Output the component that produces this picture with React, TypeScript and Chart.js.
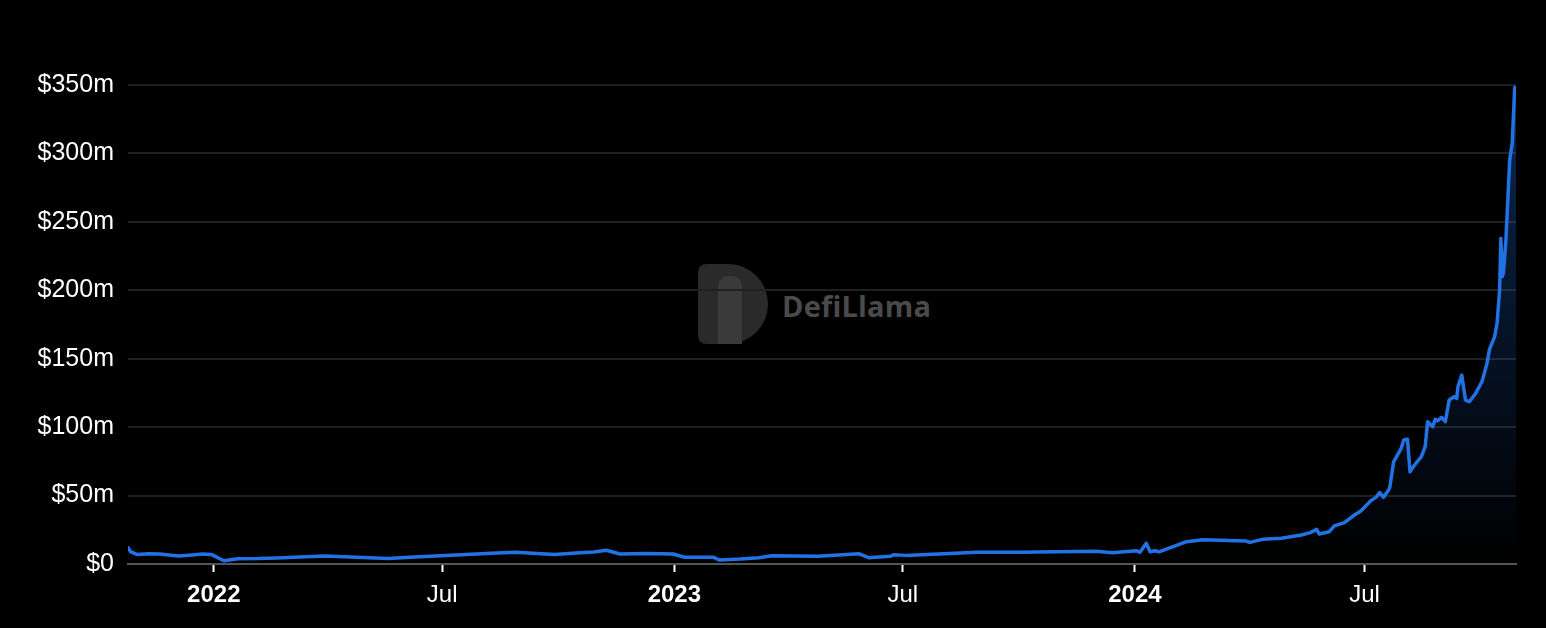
import React, { useEffect, useRef } from "react";
import { Chart, registerables } from "chart.js";

Chart.register(...registerables);

const dates = [
  "2021-10-25", "2021-10-27", "2021-11-01", "2021-11-10", "2021-11-19", "2021-12-04", "2021-12-15",
  "2021-12-23", "2021-12-30", "2022-01-09", "2022-01-20", "2022-02-05", "2022-02-20", "2022-03-10",
  "2022-03-30", "2022-04-24", "2022-05-19", "2022-06-13", "2022-07-12", "2022-08-09", "2022-08-28",
  "2022-09-28", "2022-10-15", "2022-10-29", "2022-11-08", "2022-11-19", "2022-12-10", "2022-12-31",
  "2023-01-09", "2023-02-01", "2023-02-06", "2023-02-22", "2023-03-09", "2023-03-19", "2023-04-25",
  "2023-05-27", "2023-06-04", "2023-06-21", "2023-06-24", "2023-07-03", "2023-08-29", "2023-10-05",
  "2023-10-15", "2023-12-01", "2023-12-14", "2024-01-02", "2024-01-05", "2024-01-10", "2024-01-13",
  "2024-01-17", "2024-01-20", "2024-02-11", "2024-02-24", "2024-03-29", "2024-04-01", "2024-04-11",
  "2024-04-26", "2024-05-12", "2024-05-19", "2024-05-24", "2024-05-26", "2024-06-03", "2024-06-07",
  "2024-06-15", "2024-06-23", "2024-06-28", "2024-07-06", "2024-07-10", "2024-07-13", "2024-07-16",
  "2024-07-20", "2024-07-21", "2024-07-24", "2024-07-30", "2024-08-01", "2024-08-04", "2024-08-06",
  "2024-08-09", "2024-08-15", "2024-08-18", "2024-08-20", "2024-08-24", "2024-08-26", "2024-08-28",
  "2024-08-31", "2024-09-03", "2024-09-06", "2024-09-10", "2024-09-12", "2024-09-13", "2024-09-16",
  "2024-09-19", "2024-09-22", "2024-09-27", "2024-10-02", "2024-10-06", "2024-10-08", "2024-10-12",
  "2024-10-14", "2024-10-16", "2024-10-17", "2024-10-18", "2024-10-19", "2024-10-21", "2024-10-24",
  "2024-10-26", "2024-10-28", "2024-10-29",
];

const tvlMillions = [
  12.0, 9.0, 7.0, 7.4, 7.3, 5.8, 6.6,
  7.3, 7.0, 2.4, 3.9, 4.0, 4.4, 5.2,
  5.8, 4.9, 4.1, 5.3, 6.6, 7.8, 8.5,
  7.0, 8.0, 8.8, 10.0, 7.3, 7.6, 7.3,
  4.9, 4.9, 2.9, 3.6, 4.6, 6.1, 5.6,
  7.5, 4.6, 5.6, 6.8, 6.3, 8.5, 8.5,
  8.8, 9.3, 8.3, 9.7, 8.5, 15.1, 9.0,
  9.7, 8.8, 16.3, 17.8, 16.8, 15.8, 18.0,
  18.8, 21.2, 22.9, 25.3, 21.9, 23.6, 27.8,
  30.2, 35.8, 38.7, 46.3, 48.7, 52.1, 48.7,
  54.1, 56.0, 74.7, 84.5, 90.6, 91.1, 67.4,
  71.6, 78.4, 85.7, 104.0, 100.3, 105.7, 104.7,
  107.2, 104.0, 119.8, 122.2, 121.0, 129.6, 138.0,
  119.8, 118.6, 124.7, 133.2, 146.6, 156.9, 166.0,
  175.9, 200.2, 238.0, 210.0, 212.4, 236.7, 295.2,
  307.4, 348.3, 344.0,
];

const xTickDates = ["2022-01-01", "2022-07-01", "2023-01-01", "2023-07-01", "2024-01-01", "2024-07-01"];
const xTickLabels = ["2022", "Jul", "2023", "Jul", "2024", "Jul"];

const yMin = 0;
const yMax = 350;
const yStep = 50;

const toMs = (s: string) => {
  const [y, m, d] = s.split("-").map(Number);
  return Date.UTC(y, m - 1, d);
};

const FONT = "'Liberation Sans', Arial, Helvetica, sans-serif";

export default function App() {
  const canvasRef = useRef<HTMLCanvasElement | null>(null);

  useEffect(() => {
    const canvas = canvasRef.current;
    if (!canvas) return;
    const points = dates.map((d, i) => ({ x: toMs(d), y: tvlMillions[i] }));
    const chart = new Chart(canvas, {
      type: "line",
      data: {
        datasets: [
          {
            data: points,
            borderColor: "#2172e5",
            borderWidth: 3.5,
            borderJoinStyle: "round",
            borderCapStyle: "round",
            pointRadius: 0,
            tension: 0,
            fill: "origin",
            backgroundColor: (ctx: any) => {
              const area = ctx.chart.chartArea;
              if (!area) return "rgba(33,114,229,0.15)";
              const g = ctx.chart.ctx.createLinearGradient(0, area.top, 0, area.bottom);
              g.addColorStop(0, "rgba(33,114,229,0.35)");
              g.addColorStop(1, "rgba(33,114,229,0.0)");
              return g;
            },
          },
        ],
      },
      options: {
        animation: false,
        responsive: true,
        maintainAspectRatio: false,
        layout: { padding: { top: 85, right: 30, left: 0, bottom: 0 } },
        plugins: { legend: { display: false }, tooltip: { enabled: false } },
        scales: {
          x: {
            type: "linear",
            min: toMs(dates[0]),
            max: toMs(dates[dates.length - 1]),
            afterBuildTicks: (scale: any) => {
              scale.ticks = xTickDates.map((d) => ({ value: toMs(d) }));
            },
            afterFit: (scale: any) => {
              scale.height = 64;
            },
            ticks: {
              autoSkip: false,
              maxRotation: 0,
              padding: 9,
              color: "#ffffff",
              callback: (_v: any, i: number) => xTickLabels[i],
              font: (ctx: any) => ({
                family: FONT,
                size: 24,
                weight: /^\d/.test(xTickLabels[ctx.index] || "") ? "bold" : "normal",
              }),
            },
            grid: {
              drawOnChartArea: false,
              drawTicks: true,
              tickLength: 8,
              tickColor: "#ffffff",
              tickWidth: 2,
            },
            border: { color: "#555555", width: 2 },
          },
          y: {
            min: yMin,
            max: yMax,
            afterFit: (scale: any) => {
              scale.width = 128;
            },
            ticks: {
              stepSize: yStep,
              padding: 14,
              color: "#ffffff",
              font: { family: FONT, size: 25 },
              callback: (v: any) => (Number(v) === 0 ? "$0" : `$${v}m`),
            },
            grid: { color: "#202020", lineWidth: 2, drawTicks: false },
            border: { display: false },
          },
        },
      },
    });
    return () => chart.destroy();
  }, []);

  return (
    <div
      style={{
        position: "absolute",
        left: 0,
        top: 0,
        width: 1546,
        height: 628,
        background: "#000000",
        overflow: "hidden",
      }}
    >
      <div
        style={{
          position: "absolute",
          left: 698,
          top: 264,
          width: 70,
          height: 80,
          background: "#2a2a2a",
          borderRadius: "8px 40px 40px 8px",
        }}
      />
      <div
        style={{
          position: "absolute",
          left: 718,
          top: 276,
          width: 24,
          height: 68,
          background: "#3a3a3a",
          borderRadius: "10px 10px 0 0",
        }}
      />
      <div
        style={{
          position: "absolute",
          left: 782,
          top: 287,
          fontFamily: "'Open Sans', 'DejaVu Sans', sans-serif",
          fontWeight: 700,
          fontSize: 29,
          color: "#4a4a4a",
          lineHeight: "38px",
          letterSpacing: 0.2,
        }}
      >
        DefiLlama
      </div>
      <canvas ref={canvasRef} style={{ position: "absolute", left: 0, top: 0, width: 1546, height: 628 }} />
    </div>
  );
}
